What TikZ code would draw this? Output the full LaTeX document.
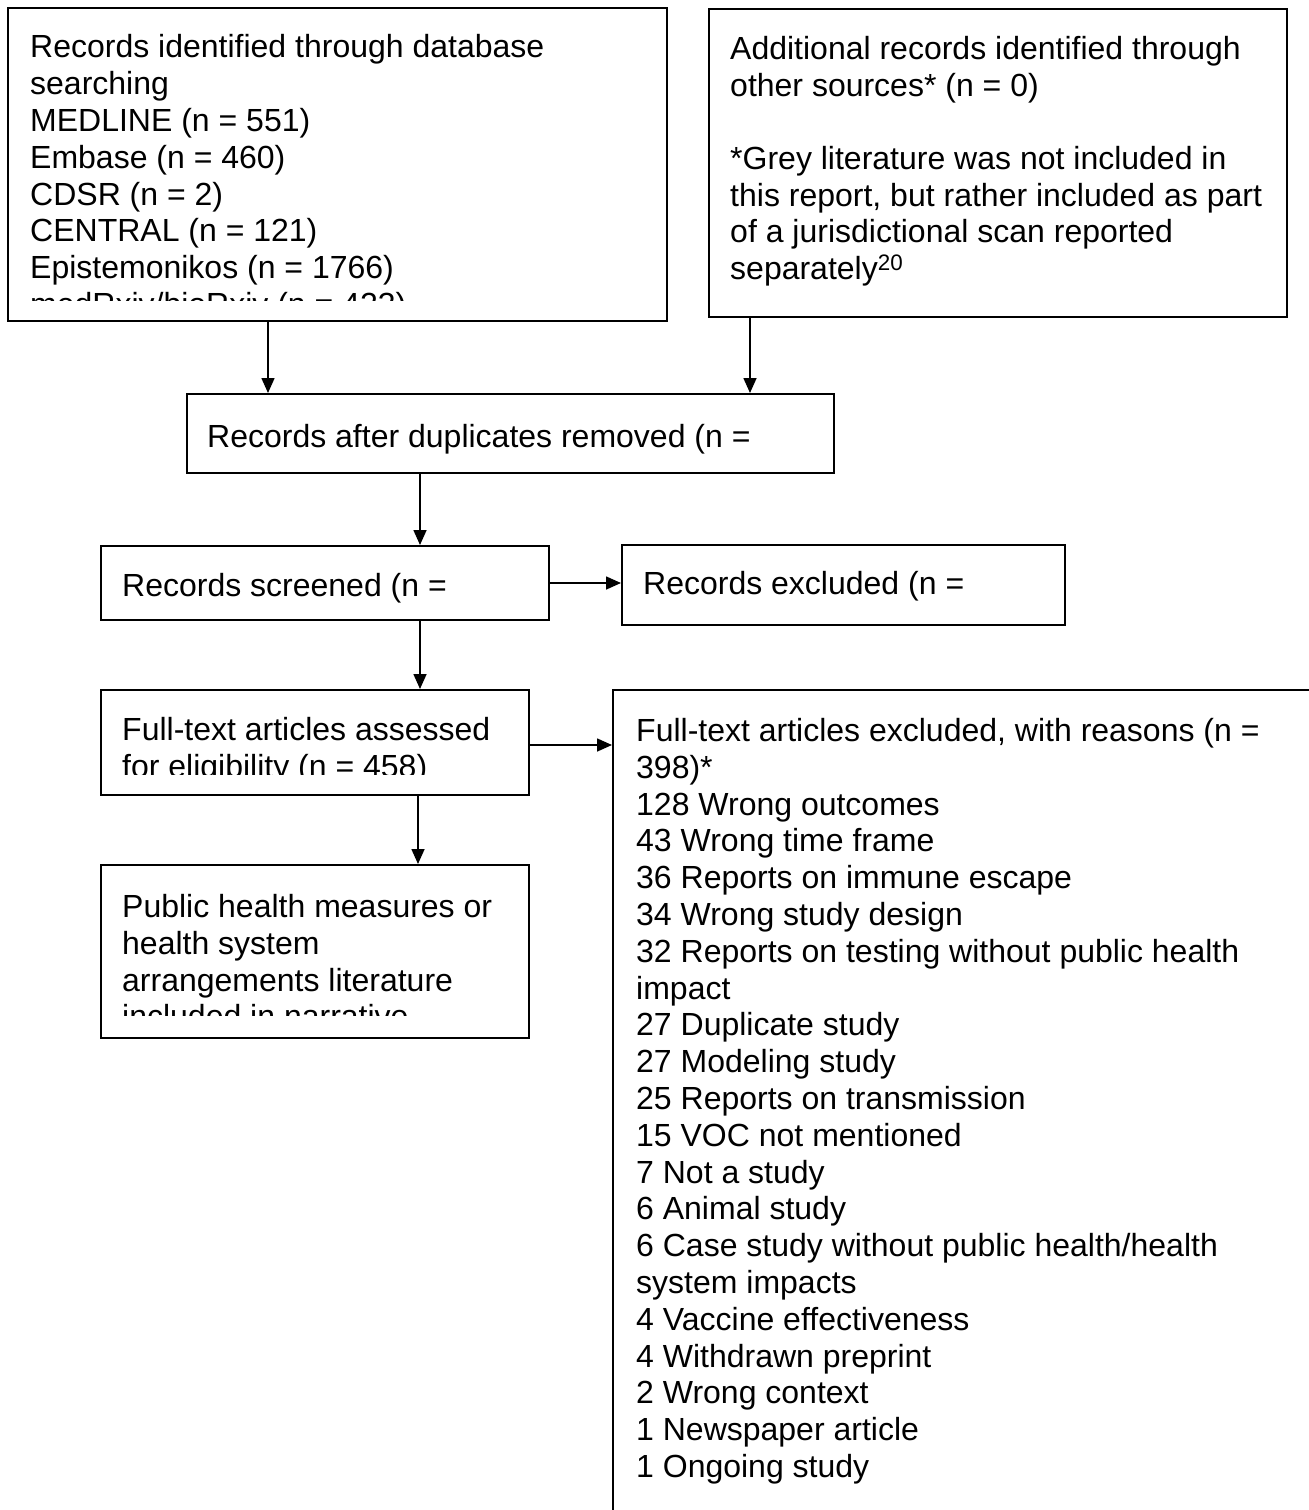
\documentclass[tikz,border=0pt]{standalone}
\usepackage{fontspec}
\setmainfont{Liberation Sans}
\usetikzlibrary{arrows.meta,calc}
\newcommand\fsz{\fontsize{32}{36.8}\selectfont}
\tikzset{
  box/.style={draw=black, line width=2pt, anchor=north west, inner sep=0pt, fill=none},
  txt/.style={inner sep=0pt, anchor=north west, align=left, font=\fsz},
  arr/.style={draw=black, line width=1.6pt, -{Triangle[length=15pt,width=13pt]}}
}
\begin{document}
\begin{tikzpicture}[x=1pt,y=-1pt]
\useasboundingbox (0,0) rectangle (1309,1510);
\clip (0,0) rectangle (1309,1510);
\fill[white] (0,0) rectangle (1309,1510);
% boxes
\node[box, minimum width=659pt, minimum height=313pt] (A) at (7,7) {};
\node[box, minimum width=578pt, minimum height=308pt] (B) at (708,8) {};
\node[box, minimum width=647pt, minimum height=79pt] (C) at (186,393) {};
\node[box, minimum width=448pt, minimum height=74pt] (D) at (100,545) {};
\node[box, minimum width=443pt, minimum height=80pt] (E) at (621,544) {};
\node[box, minimum width=428pt, minimum height=105pt] (F) at (100,689) {};
\node[box, minimum width=428pt, minimum height=173pt] (G) at (100,864) {};
\node[box, minimum width=740pt, minimum height=860pt] (H) at (612,689) {};
% texts
\begin{scope}
\clip (7,7) rectangle (666,300);
\node[txt] (At) at (30,32) {\strut Records identified through database\\searching\\MEDLINE (n = 551)\\Embase (n = 460)\\CDSR (n = 2)\\CENTRAL (n = 121)\\Epistemonikos (n = 1766)\\medRxiv/bioRxiv (n = 423)};
\end{scope}
\node[txt, font=\fontsize{32}{36.6}\selectfont] (Bt) at (730,34) {\strut Additional records identified through\\other sources* (n = 0)\\[36.6pt]*Grey literature was not included in\\this report, but rather included as part\\of a jurisdictional scan reported\\separately\textsuperscript{20}};
\node[txt] (Ct) at (207,421.5) {\strut Records after duplicates removed (n =};
\node[txt] (Dt) at (122,570.5) {\strut Records screened (n =};
\node[txt] (Et) at (643,568.5) {\strut Records excluded (n =};
\begin{scope}
\clip (100,689) rectangle (528,774);
\node[txt] (Ft) at (122,714.5) {\strut Full-text articles assessed\\for eligibility (n = 458)};
\end{scope}
\begin{scope}
\clip (100,864) rectangle (528,1015);
\node[txt] (Gt) at (122,891.5) {\strut Public health measures or\\health system\\arrangements literature\\included in narrative};
\end{scope}
\node[txt] (Ht) at (636,715.5) {\strut Full-text articles excluded, with reasons (n =\\398)*\\128 Wrong outcomes\\43 Wrong time frame\\36 Reports on immune escape\\34 Wrong study design\\32 Reports on testing without public health\\impact\\27 Duplicate study\\27 Modeling study\\25 Reports on transmission\\15 VOC not mentioned\\7 Not a study\\6 Animal study\\6 Case study without public health/health\\system impacts\\4 Vaccine effectiveness\\4 Withdrawn preprint\\2 Wrong context\\1 Newspaper article\\1 Ongoing study};
% connectors
\draw[arr] (268,0 |- A.south) -- (268,0 |- C.north);
\draw[arr] (750,0 |- B.south) -- (750,0 |- C.north);
\draw[arr] (420,0 |- C.south) -- (420,0 |- D.north);
\draw[arr] (D.east) -- (D.east -| E.west);
\draw[arr] (420,0 |- D.south) -- (420,0 |- F.north);
\draw[arr] (0,745 -| F.east) -- (0,745 -| H.west);
\draw[arr] (418,0 |- F.south) -- (418,0 |- G.north);
\end{tikzpicture}
\end{document}
